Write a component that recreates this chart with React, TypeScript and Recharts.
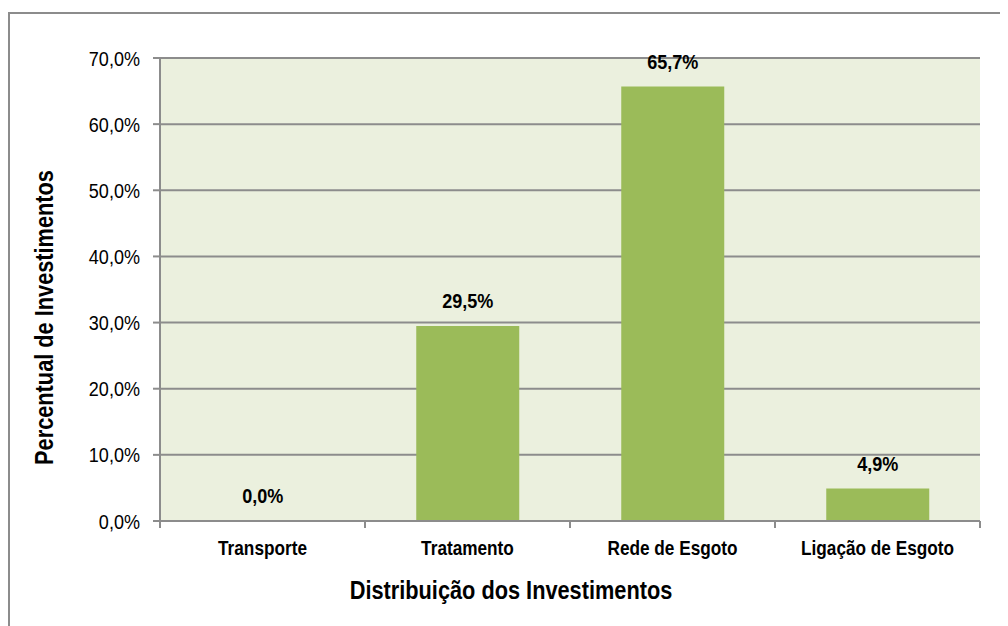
import React from 'react';
import { BarChart, Bar, XAxis, YAxis, CartesianGrid, LabelList } from 'recharts';

const categories = ['Transporte', 'Tratamento', 'Rede de Esgoto', 'Ligação de Esgoto'];
const percentages = [0.0, 29.5, 65.7, 4.9];
const yTicks = [0, 10, 20, 30, 40, 50, 60, 70];

const data = categories.map((name, i) => ({ name, value: percentages[i] }));

// no narrow font installed: squeeze Liberation Sans horizontally instead
const FONT = "'Liberation Sans', Arial, sans-serif";
const GRID = '#8c8c8c';

const fmt = (v: number) => `${v.toFixed(1).replace('.', ',')}%`;

const Narrow = ({ x, y, k, size, bold, anchor = 'middle', rotate = 0, children }: any) => (
  <text
    transform={`translate(${x} ${y}) rotate(${rotate}) scale(${k} 1)`}
    textAnchor={anchor}
    fontFamily={FONT}
    fontWeight={bold ? 'bold' : 'normal'}
    fontSize={size}
    fill="#000"
  >
    {children}
  </text>
);

// category ticks: label in the middle, tick marks on the band edges
const CategoryTick = (props: any) => {
  const { x, y, payload, index, visibleTicksCount } = props;
  const half = payload?.offset ?? 102.5;
  const top = y;
  return (
    <g>
      <line x1={x - half} x2={x - half} y1={top} y2={top + 7} stroke={GRID} strokeWidth={2} />
      {index === visibleTicksCount - 1 && (
        <line x1={x + half} x2={x + half} y1={top} y2={top + 7} stroke={GRID} strokeWidth={2} />
      )}
      <Narrow x={x} y={top + 34} k={0.82} size={21} bold>
        {payload.value}
      </Narrow>
    </g>
  );
};

const ValueTick = (props: any) => {
  const { x, y, payload } = props;
  return (
    <Narrow x={x} y={y + 7.5} k={0.86} size={21} anchor="end">
      {fmt(payload.value)}
    </Narrow>
  );
};

const BarValue = (props: any) => {
  const { x, y, width, value } = props;
  return (
    <Narrow x={x + width / 2} y={y - 17.5} k={0.86} size={21} bold>
      {fmt(Number(value))}
    </Narrow>
  );
};

const YTitle = (props: any) => {
  const { viewBox } = props;
  return (
    <Narrow x={viewBox.x + 45} y={viewBox.y + viewBox.height / 2 + 28} k={0.87} size={25} bold rotate={-90}>
      Percentual de Investimentos
    </Narrow>
  );
};

const XTitle = (props: any) => {
  const { viewBox } = props;
  return (
    <Narrow x={viewBox.x + viewBox.width / 2 - 59} y={viewBox.y + 78} k={0.87} size={25} bold>
      Distribuição dos Investimentos
    </Narrow>
  );
};

export default function App() {
  return (
    <div style={{ position: 'relative', width: 1000, height: 618 }}>
      <style>{`body{overflow:hidden}`}</style>
      <div
        style={{
          position: 'absolute',
          left: 0,
          top: 4,
          width: 1000,
          height: 614,
          borderTop: `2px solid ${GRID}`,
          borderLeft: `2px solid ${GRID}`,
          boxSizing: 'border-box',
        }}
      />
      <BarChart
        width={1000}
        height={618}
        data={data}
        margin={{ top: 50, right: 28, left: 0, bottom: 0 }}
        barCategoryGap="25%"
        style={{ position: 'absolute', left: 0, top: 0 }}
      >
        <CartesianGrid vertical={false} fill="#EBF0DE" stroke={GRID} strokeWidth={2} />
        <XAxis
          dataKey="name"
          height={105}
          axisLine={{ stroke: GRID, strokeWidth: 2 }}
          tickLine={false}
          tickSize={0}
          tickMargin={0}
          tick={<CategoryTick />}
          interval={0}
          label={<XTitle />}
        />
        <YAxis
          width={152}
          domain={[0, 70]}
          ticks={yTicks}
          interval={0}
          axisLine={{ stroke: GRID, strokeWidth: 2 }}
          tickLine={{ stroke: GRID, strokeWidth: 2 }}
          tickSize={7}
          tickMargin={13}
          tick={<ValueTick />}
          label={<YTitle />}
        />
        {/* tiny min size so the 0,0% bar still gets its label */}
        <Bar
          dataKey="value"
          fill="#9BBB59"
          minPointSize={(v: any) => (Number(v) === 0 ? 0.01 : 0)}
          isAnimationActive={false}
        >
          <LabelList dataKey="value" content={<BarValue />} />
        </Bar>
      </BarChart>
    </div>
  );
}
